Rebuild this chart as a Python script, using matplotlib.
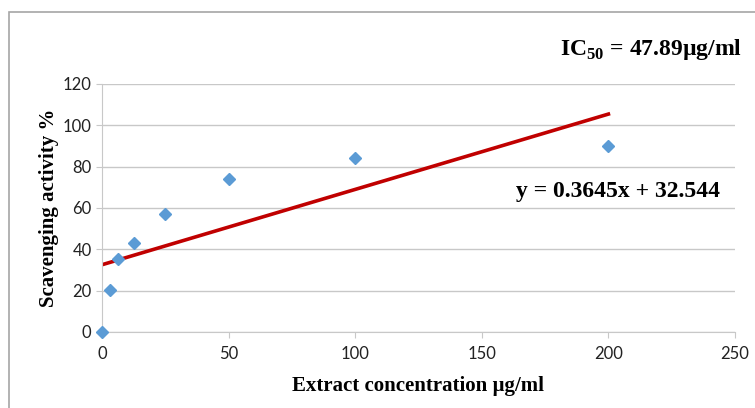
import matplotlib
matplotlib.use('Agg')
import matplotlib.pyplot as plt
import numpy as np
from matplotlib.patches import Rectangle

# data
conc = [0, 3.125, 6.25, 12.5, 25, 50, 100, 200]
activity = [0, 20.5, 35.5, 43, 57, 74, 84, 90]
slope, intercept = 0.3645, 32.544
xticks = [0, 50, 100, 150, 200, 250]
yticks = [0, 20, 40, 60, 80, 100, 120]

W, H = 755, 408
fig = plt.figure(figsize=(W/100, H/100), dpi=100)
fig.patches.append(Rectangle((9/W, -0.1), 2, 1 - 12/H + 0.1, transform=fig.transFigure,
                             fill=False, edgecolor='#a6a6a6', linewidth=1.2))

ax = fig.add_axes([102/W, 1 - 332/H, (735-102)/W, (332-84)/H])
ax.set_xlim(0, 250)
ax.set_ylim(0, 120)
ax.set_xticks(xticks)
ax.set_yticks(yticks)
ax.grid(True, axis='y', color='#c8c8c8', linewidth=1)
ax.set_axisbelow(True)
for s in ['top', 'right']:
    ax.spines[s].set_visible(False)
for s in ['left', 'bottom']:
    ax.spines[s].set_color('#c8c8c8')
ax.tick_params(length=4, color='#c8c8c8', labelsize=12)
ax.tick_params(axis='x', pad=6)
for lab in ax.get_xticklabels() + ax.get_yticklabels():
    lab.set_family('Lato')
    lab.set_color('#222222')

xs = np.array([0, 200])
ax.plot(xs, slope*xs + intercept, color='#c00000', linewidth=2.6, zorder=2)
ax.plot(conc, activity, 'D', color='#5b9bd5', markersize=6.5, zorder=3, clip_on=False)

serif = dict(family='Liberation Serif', weight='bold')
ax.set_xlabel('Extract concentration µg/ml', fontsize=15, labelpad=10, **serif)
ax.set_ylabel('Scavenging activity %', fontsize=15, labelpad=3, **serif)

fig.text(742/W, 1 - 50/H, r'IC$_{\mathregular{50}}$ = 47.89µg/ml', ha='right', va='center',
         fontsize=17, **serif)
fig.text(720/W, 1 - 192/H, 'y = 0.3645x + 32.544', ha='right', va='center',
         fontsize=17, **serif)

fig.savefig('out.png', dpi=100)
